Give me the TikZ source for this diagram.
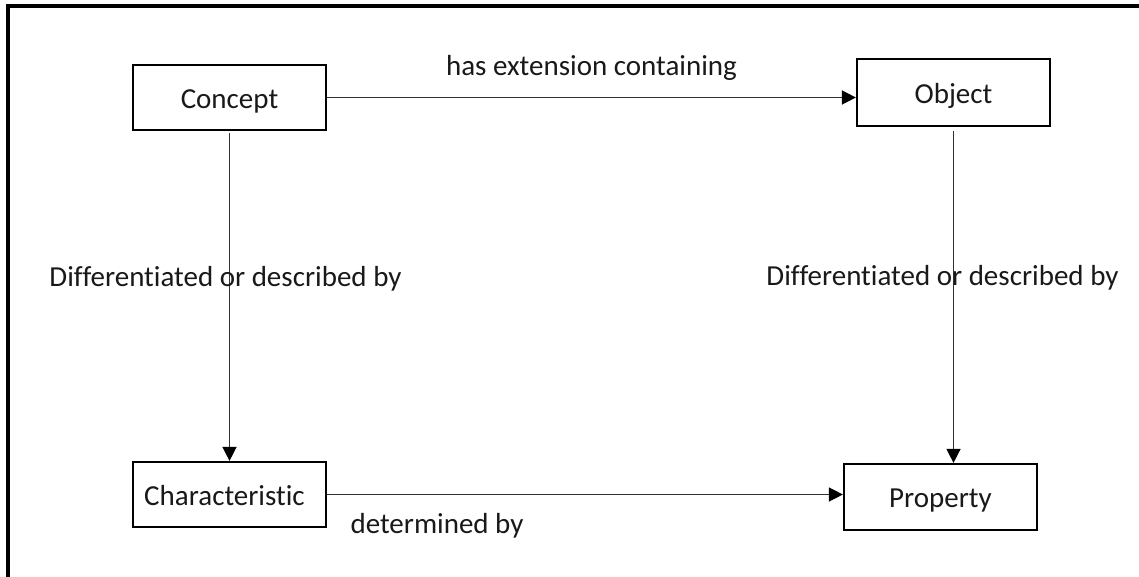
\documentclass[tikz,border=0pt]{standalone}
\usepackage{fontspec}
\setmainfont[Ligatures=NoCommon]{Carlito}
\usetikzlibrary{arrows.meta}
\begin{document}
\begin{tikzpicture}[x=1pt,y=-1pt,
  box/.style={draw=black, line width=2.2pt, minimum width=193pt, minimum height=65pt,
    inner sep=0pt, text height=24pt, text depth=3pt, font=\fontsize{29}{34}\selectfont, text=black!90},
  lbl/.style={anchor=base, inner sep=0pt, font=\fontsize{29}{34}\selectfont, text=black!90},
  conn/.style={draw=black!80, line width=1.4pt, -{Triangle[length=14pt,width=14pt,fill=black,color=black]}}]
\useasboundingbox (0,0) rectangle (1139,576);
\fill[white] (0,0) rectangle (1139,576);
% outer frame (cut at right and bottom)
\draw[line width=3.2pt, black] (8,590) -- (8,6) -- (1150,6);
% boxes
\node[box] (concept) at (229.5,97.5) {Concept};
\node[box, minimum height=67pt] (object) at (953.5,92.5) {Object};
\node[box] (charac) at (229.5,494.5) {Characteristic\hspace*{10pt}};
\node[box, minimum height=66pt] (property) at (940.5,497) {Property};
% connectors
\draw[conn] (concept.east) -- (concept.east -| object.west);
\draw[conn] ([yshift=-2pt]concept.south) -- (charac.north);
\draw[conn] ([yshift=-4pt]object.south) -- (object.south |- property.north);
\draw[conn] (charac.east) -- (charac.east -| property.west);
% labels
\node[lbl] (l1) at (591.5,75) {has extension containing};
\node[lbl] (l2) at (225.5,286) {Differentiated or described by};
\node[lbl] (l3) at (942.5,285) {Differentiated or described by};
\node[lbl] (l4) at (437,533) {determined by};
\end{tikzpicture}
\end{document}
